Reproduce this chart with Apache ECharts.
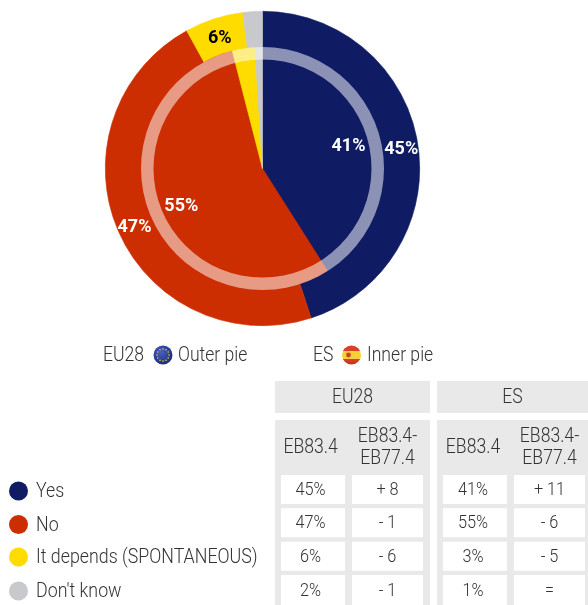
<!DOCTYPE html>
<html><head><meta charset="utf-8">
<style>html,body{margin:0;padding:0;background:#fff}#c{width:588px;height:605px}</style>
<script src="https://cdn.jsdelivr.net/npm/echarts@6/dist/echarts.min.js"></script>
</head><body><div id="c"></div>
<script>
const categories = ['Yes','No','It depends (SPONTANEOUS)',"Don't know"];
const colors = ['#0F1C64','#CC2E02','#FFDC00','#C8C9CD'];
const eu28Values = [45,47,6,2];
const esValues = [41,55,3,1];
const eu28Diff = ['+ 8','- 1','- 6','- 1'];
const esDiff = ['+ 11','- 6','- 5','='];
const groupHeaders = ['EU28','ES'];
const colHeaders = ['EB83.4','EB83.4-\nEB77.4'];

const FONT = 'Roboto';
const TXT = '#333333';
const chart = echarts.init(document.getElementById('c'));
const center = [262.5,168.5];
const labelCenter = [263,171.5];
const noBorder = {borderWidth:0,borderColor:'transparent'};
const toData = vals => vals.map((v,i)=>({name:categories[i],value:v,itemStyle:{color:colors[i],borderColor:colors[i],borderWidth:0.6}}));
const pieBase = {type:'pie',center,startAngle:90,clockwise:true,silent:true,animation:false,labelLine:{show:false},emphasis:{disabled:true},itemStyle:noBorder};
const labelData = (vals,minShown) => vals.map((v,i)=>({name:categories[i],value:v,
  itemStyle:Object.assign({color:'transparent'},noBorder),
  label:{show:v>=minShown,color:i===2?'#000':'#fff'}}));
const labelStyle = {position:'inside',formatter:'{c}%',fontFamily:'Roboto',fontWeight:'bold',fontSize:18};

const g = [];
const text = (x,y,t,o={},sx=.88) => g.push({type:'text',x,y:y+1,scaleX:sx,silent:true,style:Object.assign({text:t,fontFamily:FONT,fontWeight:300,fontSize:20,fill:TXT,align:'center',verticalAlign:'middle',lineHeight:22},o)});
const rect = (x,y,w,h,c) => g.push({type:'rect',silent:true,shape:{x,y,width:w,height:h},style:{fill:c}});
const circle = (cx,cy,r,fill) => g.push({type:'circle',silent:true,shape:{cx,cy,r},style:{fill}});

// caption with flags
text(103,355,'EU28',{align:'left'});
text(178,355,'Outer pie',{align:'left'});
text(313,355,'ES',{align:'left'});
text(367,355,'Inner pie',{align:'left'});
circle(163,355,9.5,new echarts.graphic.RadialGradient(.4,.35,.7,[{offset:0,color:'#4a5fc0'},{offset:1,color:'#1a2a78'}]));
for(let a=0;a<12;a++){ circle(163+6*Math.cos(a*Math.PI/6),355+6*Math.sin(a*Math.PI/6),.8,'#e8d040'); }
circle(351.5,355,9.5,new echarts.graphic.LinearGradient(0,0,0,1,[
 {offset:0,color:'#d8402a'},{offset:.27,color:'#d8402a'},{offset:.27,color:'#f6cf3a'},{offset:.73,color:'#f6cf3a'},{offset:.73,color:'#d8402a'},{offset:1,color:'#c4301c'}]));
circle(348.5,355,2.4,'#c8452c');

// table
const GREY = '#E9E9E9';
const blocks = [[275,155],[437,151]];
const cellX = [[[281,64,310.6],[352,71,387.5]],[[443,64,473],[514,71,549.5]]];
const rowY = [[475,29],[508.3,29],[541.7,29],[575,30]];
const cols = [[eu28Values,eu28Diff],[esValues,esDiff]];
blocks.forEach((b,k)=>{
  rect(b[0],381,b[1],32,GREY);
  rect(b[0],420,b[1],185,GREY);
  text(b[0]+b[1]/2,397,groupHeaders[k]);
  cellX[k].forEach((c,j)=>{
    text(c[2],447,colHeaders[j]);
    rowY.forEach((r,i)=>{
      rect(c[0],r[0],c[1],r[1],'#fff');
      const raw = cols[k][j][i];
      text(c[2],r[0]+r[1]/2,j===0?raw+'%':raw,{fontSize:18.5});
    });
  });
});
// legend
categories.forEach((n,i)=>{
  const y = [491,524.5,557,591][i];
  circle(18.5,y,9.5,colors[i]);
  text(36,y,n,{align:'left'},.89);
});

chart.setOption({
  animation:false,
  series:[
    Object.assign({},pieBase,{radius:[0,157.2],data:toData(eu28Values),label:{show:false},z:1}),
    Object.assign({},pieBase,{radius:[0,121.2],data:toData(esValues),label:{show:false},z:2}),
    Object.assign({},pieBase,{radius:[109,121.5],data:[{name:'ring',value:1,itemStyle:Object.assign({color:'rgba(255,255,255,0.52)'},noBorder)}],label:{show:false},z:3}),
    Object.assign({},pieBase,{center:labelCenter,radius:[116.5,157.5],data:labelData(eu28Values,5),label:labelStyle,z:4}),
    Object.assign({},pieBase,{center:labelCenter,radius:[50.5,121.5],data:labelData(esValues,5),label:labelStyle,z:4})
  ],
  graphic:{elements:g}
});
</script></body></html>
